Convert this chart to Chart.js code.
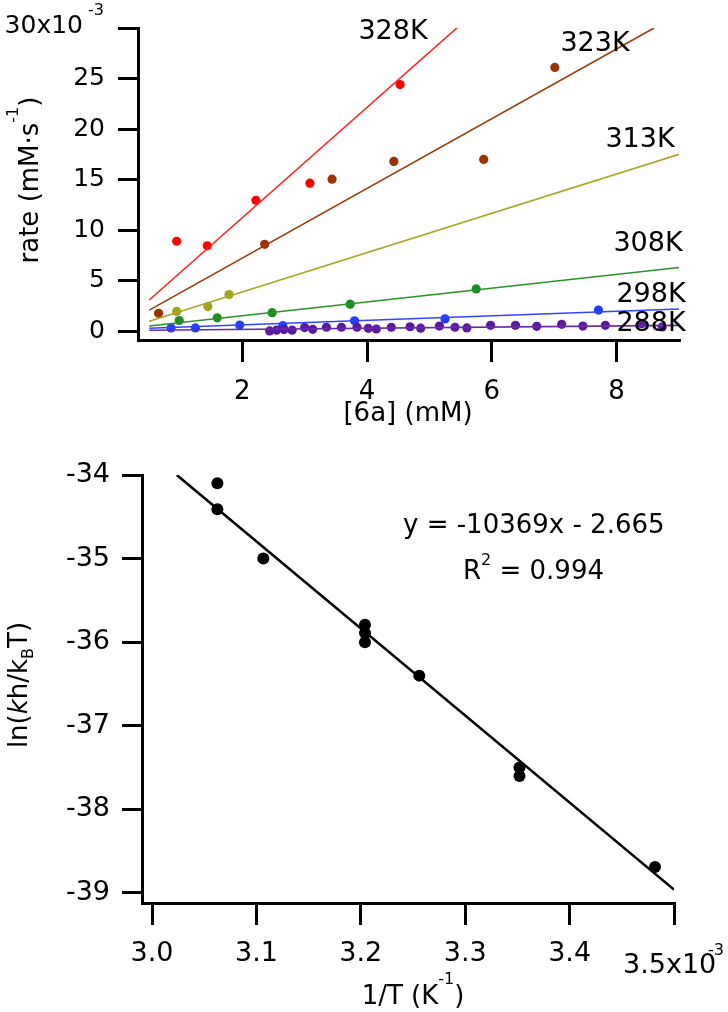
<!DOCTYPE html>
<html><head><meta charset="utf-8">
<script src="https://cdn.jsdelivr.net/npm/chart.js@4.4.1/dist/chart.umd.min.js"></script>
<style>
html,body{margin:0;padding:0;background:#fff;}
#wrap{position:relative;width:728px;height:1012px;overflow:hidden;}
canvas{position:absolute;left:0;}
#top{top:0;} #bot{top:430px;}
</style></head><body>
<div id="wrap"><canvas id="top" width="728" height="430"></canvas><canvas id="bot" width="728" height="582"></canvas></div>
<script>
// ---------- Top chart data: rate (x10^-3 mM/s) vs [6a] (mM) ----------
const conc328 = [0.95, 1.44, 2.22, 3.085, 4.53];
const rate328 = [8.9, 8.45, 12.95, 14.65, 24.4];
const conc323 = [0.66, 2.36, 3.44, 4.43, 5.87, 7.01];
const rate323 = [1.77, 8.6, 15.04, 16.8, 17.0, 26.1];
const conc313 = [0.95, 1.45, 1.79];
const rate313 = [1.96, 2.44, 3.63];
const conc308 = [0.99, 1.6, 2.48, 3.73, 5.75];
const rate308 = [1.06, 1.32, 1.83, 2.67, 4.18];
const conc298 = [0.86, 1.25, 1.96, 2.65, 3.8, 5.25, 7.71];
const rate298 = [0.32, 0.32, 0.61, 0.55, 1.03, 1.22, 2.09];
const conc288 = [2.44, 2.55, 2.67, 2.8, 3.0, 3.13, 3.35, 3.59, 3.84, 4.02, 4.15, 4.39, 4.69, 4.86, 5.16, 5.41, 5.6, 5.98, 6.38, 6.72, 7.12, 7.46, 7.82, 8.4, 8.73];
const rate288 = [0.03, 0.1, 0.16, 0.1, 0.36, 0.19, 0.39, 0.39, 0.39, 0.29, 0.22, 0.39, 0.44, 0.3, 0.51, 0.39, 0.32, 0.58, 0.58, 0.48, 0.68, 0.51, 0.58, 0.74, 0.42];
// fit line end points
const fitX328 = [0.51, 5.44], fitY328 = [3.09, 30];
const fitX323 = [0.51, 8.6],  fitY323 = [2.09, 30];
const fitX313 = [0.51, 9.0],  fitY313 = [0.99, 17.5];
const fitX308 = [0.51, 9.0],  fitY308 = [0.51, 6.3];
const fitX298 = [0.51, 9.0],  fitY298 = [0.29, 2.19];
const fitX288 = [0.51, 9.0],  fitY288 = [0.10, 0.58];
const tempLabels = ['328K', '323K', '313K', '308K', '298K', '288K'];
const topXTicks = [2, 4, 6, 8];
const topYTicks = [0, 5, 10, 15, 20, 25, 30];

// ---------- Bottom chart data: ln(kh/kBT) vs 1/T (x10^-3 K^-1) ----------
const invT = [3.0626, 3.0626, 3.1066, 3.204, 3.204, 3.204, 3.256, 3.352, 3.352, 3.4818];
const lnK  = [-34.10, -34.41, -35.0, -35.79, -35.89, -36.0, -36.40, -37.5, -37.6, -38.69];
const fitInvT = [3.0237, 3.5];
const fitLnK  = [-34.0, -38.96];
const botXTicks = [3.0, 3.1, 3.2, 3.3, 3.4, 3.5];
const botYTicks = [-34, -35, -36, -37, -38, -39];
const eqText = 'y = -10369x - 2.665';
const r2Text = ' = 0.994';

const FONT = '"DejaVu Sans"';
Chart.defaults.font.family = FONT;
Chart.defaults.color = '#000';

const pts = (xs, ys) => xs.map((x, i) => ({x, y: ys[i]}));
function font(p){ return (p.italic ? 'italic ' : '') + p.size + 'px ' + FONT; }
function drawRich(ctx, parts, x, y, align, rot){
  ctx.save();
  ctx.translate(x, y);
  if (rot) ctx.rotate(rot);
  ctx.fillStyle = '#000';
  ctx.textBaseline = 'alphabetic';
  ctx.textAlign = 'left';
  let w = 0;
  parts.forEach(p => { ctx.font = font(p); w += ctx.measureText(p.t).width; });
  let cx = align === 'center' ? -w/2 : (align === 'right' ? -w : 0);
  parts.forEach(p => { ctx.font = font(p); ctx.fillText(p.t, cx, p.dy || 0); cx += ctx.measureText(p.t).width; });
  ctx.restore();
}

function axisOpts(min, max, ticks, labelFn, tl, pad, size, fit){
  return {
    type: 'linear', min, max,
    afterBuildTicks: s => { s.ticks = ticks.map(v => ({value: v})); },
    afterFit: fit,
    ticks: { autoSkip: false, maxRotation: 0, padding: pad, font: {size}, callback: labelFn },
    grid: { drawOnChartArea: false, color: '#000', lineWidth: 3, tickLength: tl },
    border: { display: true, color: '#000', width: 3 }
  };
}

// ---------- Top chart ----------
const colors = ['#ff0000', '#993300', '#a3a321', '#1e8c1e', '#1f3cff', '#5a1aa0'];
const lineColors = ['#ff2020', '#9c3a0a', '#a8a828', '#2a922a', '#3344ff', '#6a2aa8'];
const concs = [conc328, conc323, conc313, conc308, conc298, conc288];
const rates = [rate328, rate323, rate313, rate308, rate298, rate288];
const fitXs = [fitX328, fitX323, fitX313, fitX308, fitX298, fitX288];
const fitYs = [fitY328, fitY323, fitY313, fitY308, fitY298, fitY288];
const topSets = [];
for (let i = 5; i >= 0; i--) {
  topSets.push({ data: pts(fitXs[i], fitYs[i]), showLine: true, borderColor: lineColors[i], borderWidth: 1.6, pointRadius: 0, fill: false });
}
for (let i = 5; i >= 0; i--) {
  topSets.push({ data: pts(concs[i], rates[i]), showLine: false, pointRadius: 4.6, pointBackgroundColor: colors[i], pointBorderWidth: 0, borderColor: colors[i] });
}
const tempPos = [[393, 39], [595, 51], [640, 147], [648, 251], [651, 302], [651, 331]];

const topPlugin = {
  id: 'topText',
  afterDraw(chart){
    const ctx = chart.ctx;
    tempLabels.forEach((t, i) => drawRich(ctx, [{t, size: 27}], tempPos[i][0], tempPos[i][1], 'center'));
    drawRich(ctx, [{t: '30x10', size: 25}], 83, 33, 'right');
    drawRich(ctx, [{t: '-3', size: 16}], 88, 15, 'left');
    drawRich(ctx, [{t: 'rate (mM\u00b7s', size: 26}, {t: '-1', size: 16, dy: -20}, {t: ')', size: 26}], 38, 180, 'center', -Math.PI/2);
    drawRich(ctx, [{t: '[6a] (mM)', size: 26}], 408, 421, 'center');
  }
};

new Chart(document.getElementById('top'), {
  type: 'scatter',
  data: { datasets: topSets },
  options: {
    responsive: false, animation: false,
    layout: { padding: { left: 0, top: 20, right: 49, bottom: 0 } },
    plugins: { legend: { display: false }, tooltip: { enabled: false } },
    scales: {
      x: axisOpts(0.33, 9.0, topXTicks, v => String(v), 22, 15, 26, s => { s.height = 90; }),
      y: axisOpts(-0.87, 30, topYTicks, v => (v === 30 ? '' : String(v)), 20, 13, 25, s => { s.width = 138; })
    }
  },
  plugins: [topPlugin]
});

// ---------- Bottom chart ----------
const botPlugin = {
  id: 'botText',
  afterDraw(chart){
    const ctx = chart.ctx;
    drawRich(ctx, [{t: '3.5x10', size: 27}], 623, 543, 'left');
    drawRich(ctx, [{t: '-3', size: 16}], 708, 525, 'left');
    drawRich(ctx, [{t: eqText, size: 26}], 403, 103, 'left');
    drawRich(ctx, [{t: 'R', size: 26}, {t: '2', size: 16, dy: -14}, {t: r2Text, size: 26}], 463, 149, 'left');
    drawRich(ctx, [{t: '1/T (K', size: 26}, {t: '-1', size: 16, dy: -20}, {t: ')', size: 26}], 413, 574, 'center');
    drawRich(ctx, [{t: 'ln(', size: 26}, {t: 'k', size: 26, italic: true}, {t: 'h/k', size: 26}, {t: 'B', size: 16, dy: 6}, {t: 'T)', size: 26}], 27, 255, 'center', -Math.PI/2);
  }
};

new Chart(document.getElementById('bot'), {
  type: 'scatter',
  data: { datasets: [
    { data: pts(fitInvT, fitLnK), showLine: true, borderColor: '#000', borderWidth: 2.6, pointRadius: 0, fill: false },
    { data: pts(invT, lnK), showLine: false, pointRadius: 6, pointBackgroundColor: '#000', pointBorderWidth: 0, borderColor: '#000' }
  ]},
  options: {
    responsive: false, animation: false,
    layout: { padding: { left: 0, top: 45, right: 54, bottom: 0 } },
    plugins: { legend: { display: false }, tooltip: { enabled: false } },
    scales: {
      x: axisOpts(2.9904, 3.5, botXTicks, v => (Math.abs(v - 3.5) < 1e-6 ? '' : v.toFixed(1)), 22, 13, 27, s => { s.height = 109; }),
      y: axisOpts(-39.12, -34, botYTicks, v => String(v), 20, 12, 27, s => { s.width = 142; })
    }
  },
  plugins: [botPlugin]
});
</script>
</body></html>
